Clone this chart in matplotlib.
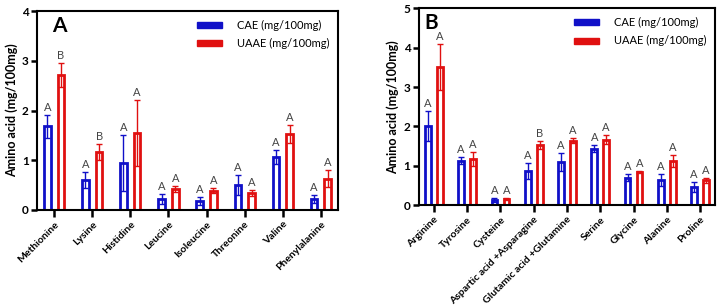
import numpy as np
import matplotlib.pyplot as plt
from matplotlib.patches import Patch

plt.rcParams['font.family'] = ['Lato', 'DejaVu Sans']

BLUE = '#1010c8'
RED = '#e01010'

# panel A
cats_a = ['Methionine', 'Lysine', 'Histidine', 'Leucine', 'Isoleucine',
          'Threonine', 'Valine', 'Phenylalanine']
cae_a = [1.68, 0.61, 0.95, 0.23, 0.19, 0.51, 1.07, 0.23]
cae_a_err = [0.23, 0.16, 0.56, 0.10, 0.08, 0.20, 0.14, 0.08]
uaae_a = [2.72, 1.17, 1.55, 0.43, 0.39, 0.35, 1.53, 0.63]
uaae_a_err = [0.24, 0.16, 0.67, 0.06, 0.05, 0.06, 0.18, 0.17]
let_cae_a = ['A', 'A', 'A', 'A', 'A', 'A', 'A', 'A']
let_uaae_a = ['B', 'B', 'A', 'A', 'A', 'A', 'A', 'A']

# panel B
cats_b = ['Arginine', 'Tyrosine', 'Cysteine', 'Aspartic acid +Asparagine',
          'Glutamic acid +Glutamine', 'Serine', 'Glycine', 'Alanine', 'Proline']
cae_b = [2.00, 1.13, 0.13, 0.86, 1.10, 1.43, 0.69, 0.64, 0.45]
cae_b_err = [0.38, 0.09, 0.04, 0.21, 0.23, 0.09, 0.09, 0.16, 0.13]
uaae_b = [3.51, 1.18, 0.16, 1.53, 1.64, 1.66, 0.84, 1.13, 0.63]
uaae_b_err = [0.59, 0.18, 0.03, 0.11, 0.06, 0.11, 0.02, 0.15, 0.06]
let_cae_b = ['A'] * 9
let_uaae_b = ['A', 'A', 'A', 'B', 'A', 'A', 'A', 'A', 'A']


def panel(ax, cats, cae, cae_err, uaae, uaae_err, lc, lu, ymax, tag, tagx):
    x = np.arange(len(cats))
    w = 0.17
    off = 0.18
    for xs, vals, errs, col, lets in [(x - off, cae, cae_err, BLUE, lc),
                                     (x + off, uaae, uaae_err, RED, lu)]:
        ax.bar(xs, vals, width=w, facecolor='white', edgecolor=col,
               linewidth=2.0, zorder=2)
        ax.errorbar(xs, vals, yerr=errs, fmt='none', ecolor=col,
                    elinewidth=1.0, capsize=2.5, capthick=1.0, zorder=3)
        for xi, v, e, t in zip(xs, vals, errs, lets):
            ax.text(xi, v + e + ymax * 0.01, t, ha='center', va='bottom',
                    fontsize=8, color='#444444')
    ax.set_xlim(-0.45, len(cats) - 0.55)
    ax.set_ylim(0, ymax)
    ax.set_yticks(range(ymax + 1))
    ax.set_xticks(x)
    ax.set_xticklabels(cats, rotation=45, ha='right', rotation_mode='anchor',
                       fontsize=7.5, fontweight='bold')
    for lab in ax.get_yticklabels():
        lab.set_fontweight('bold')
        lab.set_fontsize(8.5)
    ax.tick_params(axis='both', direction='out', width=1.8, length=5, pad=2)
    ax.tick_params(axis='y', length=4)
    for s in ax.spines.values():
        s.set_linewidth(1.5)
    ax.set_ylabel('Amino acid (mg/100mg)', fontsize=9, fontweight='bold',
                  labelpad=3)
    ax.text(tagx, 0.975, tag, transform=ax.transAxes, fontsize=15,
            fontweight='bold', va='top', ha='left')
    handles = [Patch(facecolor=BLUE, edgecolor=BLUE, label='CAE (mg/100mg)'),
               Patch(facecolor=RED, edgecolor=RED, label='UAAE (mg/100mg)')]
    ax.legend(handles=handles, loc='upper right', frameon=False, fontsize=8,
              handlelength=2.3, handleheight=0.45, handletextpad=1.3,
              labelspacing=0.65, borderaxespad=0.4)


fig = plt.figure(figsize=(7.21, 3.07), dpi=100)
ax1 = fig.add_axes([0.0513, 0.316, 0.4175, 0.648])
ax2 = fig.add_axes([0.581, 0.332, 0.4107, 0.641])

panel(ax1, cats_a, cae_a, cae_a_err, uaae_a, uaae_a_err, let_cae_a, let_uaae_a, 4, 'A', 0.05)
panel(ax2, cats_b, cae_b, cae_b_err, uaae_b, uaae_b_err, let_cae_b, let_uaae_b, 5, 'B', 0.02)

fig.savefig('out.png', dpi=100)
